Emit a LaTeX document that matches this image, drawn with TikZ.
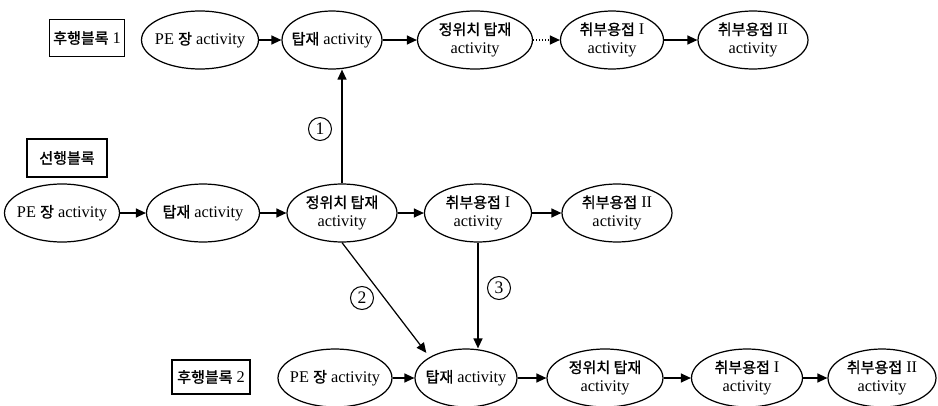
\documentclass[tikz,border=0pt]{standalone}
\usepackage{fontspec}
\setmainfont{Liberation Serif}
\newfontfamily\kr[Scale=0.92,FakeBold=1.2]{Noto Sans CJK KR}
\usetikzlibrary{arrows.meta,shapes.geometric}

\begin{document}
\begin{tikzpicture}[
  x=0.02cm,
  y=-0.02cm,
  act/.style={draw=black, ellipse, line width=0.7pt, minimum height=1.16cm, inner xsep=-10pt, inner ysep=0pt, align=center, font=\fontsize{9.3}{10.8}\selectfont},
  blk/.style={draw=black, line width=0.7pt, inner sep=1pt, font=\fontsize{9.3}{10.8}\selectfont},
  num/.style={draw=black, circle, line width=0.6pt, minimum size=0.46cm, inner sep=0pt, font=\fontsize{10}{11}\selectfont},
  flow/.style={line width=0.7pt, -{Triangle[length=2mm, width=1.8mm]}},
  flowdot/.style={flow, densely dotted}
]
\useasboundingbox (0,0) rectangle (938,406);

\node[blk, minimum width=1.5cm, minimum height=0.74cm] (hb1) at (87,38) {{\kr 후행블록} 1};
\node[act, minimum width=2.34cm] (t1) at (200,40) {PE {\kr 장} activity};
\node[act, minimum width=2.0cm] (t2) at (332,40) {{\kr 탑재} activity};
\node[act, minimum width=2.3cm] (t3) at (475,40) {{\kr 정위치 탑재}\\activity};
\node[act, minimum width=2.06cm] (t4) at (612,40) {{\kr 취부용접} I\\activity};
\node[act, minimum width=2.2cm] (t5) at (753,40) {{\kr 취부용접} II\\activity};

\node[blk, minimum width=1.6cm, minimum height=0.76cm] (sb) at (67,158) {\kr 선행블록};
\node[act, minimum width=2.3cm] (m1) at (62,213) {PE {\kr 장} activity};
\node[act, minimum width=2.26cm] (m2) at (203,213) {{\kr 탑재} activity};
\node[act, minimum width=2.2cm] (m3) at (342,213) {{\kr 정위치 탑재}\\activity};
\node[act, minimum width=2.14cm] (m4) at (478,213) {{\kr 취부용접} I\\activity};
\node[act, minimum width=2.2cm] (m5) at (617,213) {{\kr 취부용접} II\\activity};

\node[blk, minimum width=1.56cm, minimum height=0.68cm] (hb2) at (211,377) {{\kr 후행블록} 2};
\node[act, minimum width=2.28cm] (b1) at (335,378) {PE {\kr 장} activity};
\node[act, minimum width=2.04cm] (b2) at (466,378) {{\kr 탑재} activity};
\node[act, minimum width=2.32cm] (b3) at (605,378) {{\kr 정위치 탑재}\\activity};
\node[act, minimum width=2.22cm] (b4) at (747,378) {{\kr 취부용접} I\\activity};
\node[act, minimum width=2.16cm] (b5) at (882,378) {{\kr 취부용접} II\\activity};

\draw[flow] (t1) -- (t2);
\draw[flow] (t2) -- (t3);
\draw[flowdot] (t3) -- (t4);
\draw[flow] (t4) -- (t5);

\draw[flow] (m1) -- (m2);
\draw[flow] (m2) -- (m3);
\draw[flow] (m3) -- (m4);
\draw[flow] (m4) -- (m5);

\draw[flow] (b1) -- (b2);
\draw[flow] (b2) -- (b3);
\draw[flow] (b3) -- (b4);
\draw[flow] (b4) -- (b5);

\draw[flow] (m3.north) -- (m3.north |- t2.south);
\draw[flow, shorten >=3pt] (m3.south) -- (b2.north west);
\draw[flow] (m4.south) -- (m4.south |- b2.north);

\node[num] (n1) at (320,129) {1};
\node[num] (n2) at (362,298) {2};
\node[num] (n3) at (499,288) {3};
\end{tikzpicture}
\end{document}
